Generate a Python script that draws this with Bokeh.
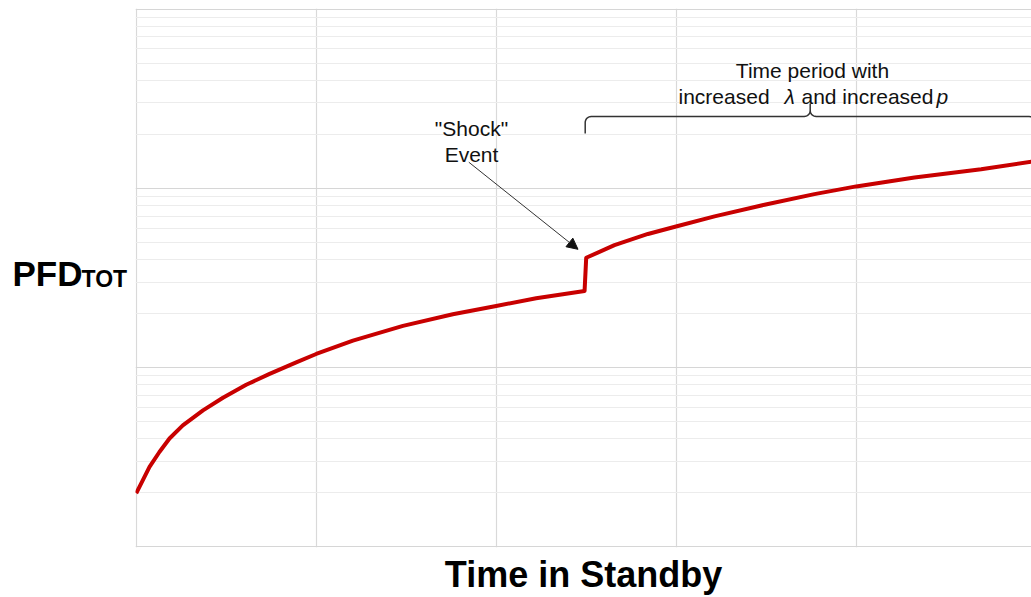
import numpy as np
from bokeh.plotting import figure
from bokeh.layouts import row
from bokeh.models import Label, Arrow, NormalHead, FixedTicker, Range1d
from bokeh.embed import file_html
from bokeh.resources import INLINE

# ---------------- data ----------------
time_before = [0.0, 0.037, 0.074, 0.129, 0.185, 0.259, 0.371, 0.482, 0.611,
               0.741, 0.889, 1.0, 1.204, 1.482, 1.759, 2.0, 2.222, 2.491]
pfd_before = [1.99e-4, 2.355e-4, 2.79e-4, 3.38e-4, 4.02e-4, 4.76e-4, 5.77e-4,
              6.79e-4, 8.02e-4, 9.23e-4, 1.069e-3, 1.191e-3, 1.413e-3,
              1.710e-3, 1.986e-3, 2.208e-3, 2.438e-3, 2.679e-3]
time_after = [2.5, 2.657, 2.843, 3.004, 3.213, 3.491, 3.768, 4.0, 4.324,
              4.694, 4.978]
pfd_after = [4.10e-3, 4.82e-3, 5.57e-3, 6.15e-3, 6.98e-3, 8.11e-3, 9.29e-3,
             1.026e-2, 1.151e-2, 1.279e-2, 1.413e-2]
time_end = 5.0

x_grid_ticks = [0, 1, 2, 3, 4, 5]
y_major = [1e-4, 1e-3, 1e-2, 1e-1]
y_minor = [k * d for d in [1e-4, 1e-3, 1e-2] for k in range(2, 10)]

x_label = "Time in Standby"
y_label_main = "PFD"
y_label_sub = "TOT"
shock_text = ['"Shock"', "Event"]
period_line1 = "Time period with"

# ---------------- layout ----------------
TOTAL_W, H = 1031, 597
LEFT_W = 135
W = TOTAL_W - LEFT_W
BT, BB = 8, 50
FRAME_H = H - BT - BB
PX_PER_X = 180.0
X0 = -0.7 / PX_PER_X            # keeps the x=0 grid line just inside the frame
X_END = X0 + W / PX_PER_X
LOG_LO, LOG_HI = -4.004, -0.996  # keeps the edge decade lines just inside
FONT = "Liberation Sans"

# page-pixel -> data helpers for annotations (frame: x 135..1031, y 8..547)
def X(px):
    return X0 + (px - LEFT_W) / PX_PER_X

def Y(py):
    return 10 ** (LOG_LO + (LOG_HI - LOG_LO) * (BT + FRAME_H - py) / FRAME_H)

def PX(x):
    return LEFT_W + PX_PER_X * (x - X0)

p = figure(width=W, height=H, y_axis_type="log",
           x_range=Range1d(X0, X_END), y_range=Range1d(10 ** LOG_LO, 10 ** LOG_HI),
           output_backend="svg", toolbar_location=None,
           min_border_left=0, min_border_right=0,
           min_border_top=BT, min_border_bottom=BB)
p.yaxis.visible = False
ax = p.xaxis[0]
ax.ticker = FixedTicker(ticks=[])
ax.axis_line_color = None
ax.major_tick_line_color = None
ax.minor_tick_line_color = None
ax.major_tick_out = 0
ax.major_tick_in = 0
ax.minor_tick_out = 0
ax.minor_tick_in = 0
ax.major_label_standoff = 0
ax.axis_label = x_label
ax.axis_label_text_font = FONT
ax.axis_label_text_font_size = "36px"
ax.axis_label_text_font_style = "bold"
ax.axis_label_text_color = "#000000"
ax.axis_label_standoff = 6

p.outline_line_color = None
p.background_fill_color = "white"
p.border_fill_color = "white"

p.xgrid.ticker = FixedTicker(ticks=x_grid_ticks)
p.xgrid.grid_line_color = "#d9d9d9"
p.xgrid.grid_line_width = 1.2
p.ygrid.ticker = FixedTicker(ticks=y_major, minor_ticks=y_minor)
p.ygrid.grid_line_color = "#d6d6d6"
p.ygrid.grid_line_width = 1.2
p.ygrid.minor_grid_line_color = "#ececec"
p.ygrid.minor_grid_line_width = 1

# ---------------- curve ----------------
t_all = time_before + time_after
pfd_all = pfd_before + pfd_after
p.line(t_all, pfd_all, line_color="#c80000", line_width=4, line_join="round")

# ---------------- brace ----------------
xl = PX(time_after[0]) - 1
xr = PX(time_end) - 1
xm = (xl + xr) / 2.0
yb = 116.0
r = 6.0

def arc(cx, cy, a0, a1, n=8):
    a = np.radians(np.linspace(a0, a1, n))
    return list(cx + r * np.cos(a)), list(cy + r * np.sin(a))

bx, by = [xl], [133.0]
ax_, ay_ = arc(xl + r, yb + r, 180, 270); bx += ax_; by += ay_
ax_, ay_ = arc(xm - r, yb - r, 90, 0); bx += ax_; by += ay_
bx.append(xm); by.append(103.0)
ax_, ay_ = arc(xm + r, yb - r, 180, 90); bx += ax_; by += ay_
ax_, ay_ = arc(xr - r, yb + r, 270, 360); bx += ax_; by += ay_
bx.append(xr); by.append(133.0)
p.line([X(v) for v in bx], [Y(v) for v in by], line_color="#333333", line_width=1.5)

# ---------------- arrow ----------------
p.add_layout(Arrow(end=NormalHead(size=11, fill_color="#111111", line_color="#111111"),
                   x_start=X(468.3), y_start=Y(161.7),
                   x_end=X(577.5), y_end=Y(248.8),
                   line_color="#333333", line_width=1))

# ---------------- texts in the plot ----------------
def lab(px, py, text, size, align="left", style="normal", color="#111111"):
    p.add_layout(Label(x=X(px), y=Y(py), text=text, text_font=FONT,
                       text_font_size=size, text_align=align,
                       text_baseline="alphabetic", text_font_style=style,
                       text_color=color))

lab(471, 128, shock_text[0], "21px", "center")
lab(471, 154, shock_text[1], "21px", "center")
lab(812, 70, period_line1, "21px", "center")
lab(678, 96, "increased", "21px")
lab(784, 96, "\u03bb", "21px", style="italic")
lab(801, 96, "and increased", "21px")
lab(936, 96, "p", "21px", style="italic")

# ---------------- left panel with the y label ----------------
left = figure(width=LEFT_W, height=H, x_range=Range1d(0, LEFT_W),
              y_range=Range1d(H, 0), output_backend="svg",
              toolbar_location=None, x_axis_location=None,
              y_axis_location=None, min_border=0)
left.grid.visible = False
left.outline_line_color = None
left.background_fill_color = "white"
left.border_fill_color = "white"
left.add_layout(Label(x=12, y=293, text=y_label_main, text_font=FONT,
                      text_font_size="35px", text_font_style="bold",
                      text_baseline="alphabetic", text_color="#000000"))
left.add_layout(Label(x=81, y=300, text=y_label_sub, text_font=FONT,
                      text_font_size="23px", text_font_style="bold",
                      text_baseline="alphabetic", text_color="#000000"))

layout = row(left, p)
open("out.html", "w").write(file_html(layout, INLINE))
